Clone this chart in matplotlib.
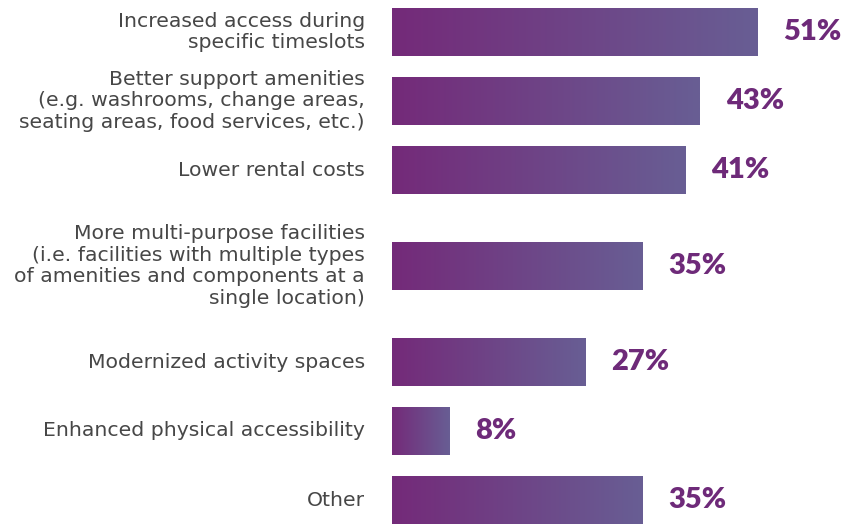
import numpy as np
import matplotlib.pyplot as plt
from matplotlib.colors import LinearSegmentedColormap

categories = [
    "Increased access during\nspecific timeslots",
    "Better support amenities\n(e.g. washrooms, change areas,\nseating areas, food services, etc.)",
    "Lower rental costs",
    "More multi-purpose facilities\n(i.e. facilities with multiple types\nof amenities and components at a\nsingle location)",
    "Modernized activity spaces",
    "Enhanced physical accessibility",
    "Other",
]
values = [51, 43, 41, 35, 27, 8, 35]

W, H = 841, 526
fig = plt.figure(figsize=(W / 100, H / 100), dpi=100)

# axes in pixel-like units; x scale gives ~7.16 px per percentage point
x0 = 392
px_per_pct = 7.157
ax = fig.add_axes([x0 / W, 0, (W - x0) / W, 1])
ax.set_xlim(0, (W - x0) / px_per_pct)
ax.set_ylim(H, 0)

# slot heights: taller slot for the four-line label
slots = [69 if c.count("\n") < 3 else 123 for c in categories]
centers = []
pos = 32 - slots[0] / 2
for s in slots:
    centers.append(pos + s / 2)
    pos += s

bar_h = 48
cmap = LinearSegmentedColormap.from_list("bar", ["#742a79", "#685e94"])
grad = np.linspace(0, 1, 256).reshape(1, -1)
label_color = "#6e2a79"

for c, v in zip(centers, values):
    ax.imshow(grad, cmap=cmap, aspect="auto", interpolation="bilinear",
              extent=[0, v, c + bar_h / 2, c - bar_h / 2], zorder=2)
    ax.text(v + 26 / px_per_pct, c, f"{v}%", va="center", ha="left",
            fontsize=21, fontweight="heavy", color=label_color,
            family="Lato")

ax.set_xlim(0, (W - x0) / px_per_pct)
ax.set_ylim(H, 0)
ax.set_yticks(centers)
ax.set_yticklabels(categories, fontsize=14.7, color="#474747",
                   family="DejaVu Sans", linespacing=1.17, ha="right",
                   va="center")
ax.tick_params(axis="y", length=0, pad=19.5)
ax.set_xticks([])
for s in ax.spines.values():
    s.set_visible(False)

fig.savefig("out.png", dpi=100)
